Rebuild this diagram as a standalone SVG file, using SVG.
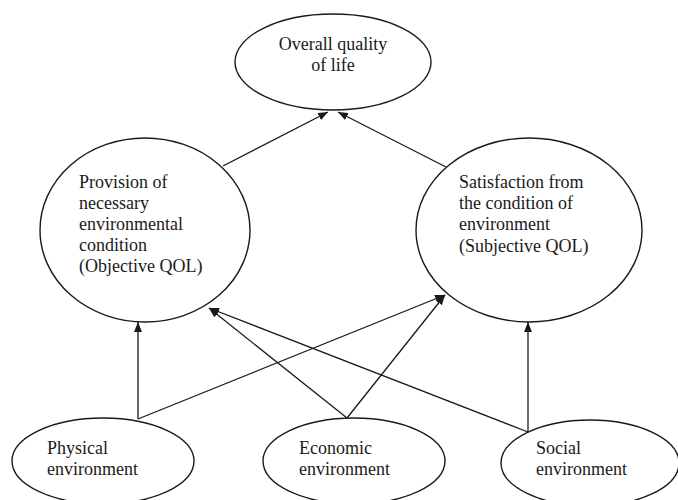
<svg xmlns="http://www.w3.org/2000/svg" width="678" height="500" viewBox="0 0 678 500">
<style>
  .node { fill: #ffffff; stroke: #1a1a1a; stroke-width: 1.4; }
  .lbl { font-family: "Liberation Serif", "Times New Roman", serif; font-size: 18px; fill: #1a1a1a; }
  .edge { stroke: #1a1a1a; stroke-width: 1.3; fill: none; marker-end: url(#arrow); }
  .plain { stroke: #1a1a1a; stroke-width: 1.3; fill: none; }
</style>
<defs>
  <marker id="arrow" markerUnits="userSpaceOnUse" markerWidth="11" markerHeight="8" refX="10" refY="4" orient="auto">
    <path d="M0,0 L10,4 L0,8 z" fill="#1a1a1a"/>
  </marker>
</defs>
<rect width="678" height="500" fill="#ffffff"/>
<g id="connectors">
  <line class="edge" x1="223" y1="166" x2="328" y2="112"/>
  <line class="edge" x1="446" y1="167" x2="338" y2="112"/>
  <line class="edge" x1="138" y1="419" x2="138" y2="322"/>
  <line class="edge" x1="138" y1="419" x2="445" y2="295"/>
  <line class="edge" x1="347" y1="418" x2="209" y2="308"/>
  <line class="edge" x1="347" y1="418" x2="445" y2="295"/>
  <line class="edge" x1="528" y1="432" x2="209" y2="308"/>
  <line class="edge" x1="528" y1="432" x2="528" y2="322"/>
</g>
<g id="overall">
  <ellipse class="node" cx="333" cy="62" rx="98" ry="48"/>
  <text class="lbl" x="333" y="50" text-anchor="middle">Overall quality</text>
  <text class="lbl" x="333" y="71" text-anchor="middle">of life</text>
</g>
<g id="objective">
  <ellipse class="node" cx="145" cy="230" rx="105" ry="92"/>
  <text class="lbl" x="79" y="188">Provision of</text>
  <text class="lbl" x="79" y="209">necessary</text>
  <text class="lbl" x="79" y="230">environmental</text>
  <text class="lbl" x="79" y="251">condition</text>
  <text class="lbl" x="79" y="272">(Objective QOL)</text>
</g>
<g id="subjective">
  <ellipse class="node" cx="529" cy="230" rx="113" ry="92"/>
  <text class="lbl" x="459" y="188">Satisfaction from</text>
  <text class="lbl" x="459" y="209">the condition of</text>
  <text class="lbl" x="459" y="230">environment</text>
  <text class="lbl" x="459" y="252">(Subjective QOL)</text>
</g>
<g id="physical">
  <ellipse class="node" cx="103" cy="461" rx="91" ry="43"/>
  <text class="lbl" x="47" y="454">Physical</text>
  <text class="lbl" x="47" y="475">environment</text>
</g>
<g id="economic">
  <ellipse class="node" cx="354" cy="461" rx="91" ry="43"/>
  <text class="lbl" x="299" y="454">Economic</text>
  <text class="lbl" x="299" y="475">environment</text>
</g>
<g id="social">
  <ellipse class="node" cx="590" cy="463" rx="89" ry="43"/>
  <text class="lbl" x="536" y="454">Social</text>
  <text class="lbl" x="536" y="475">environment</text>
</g>
</svg>
